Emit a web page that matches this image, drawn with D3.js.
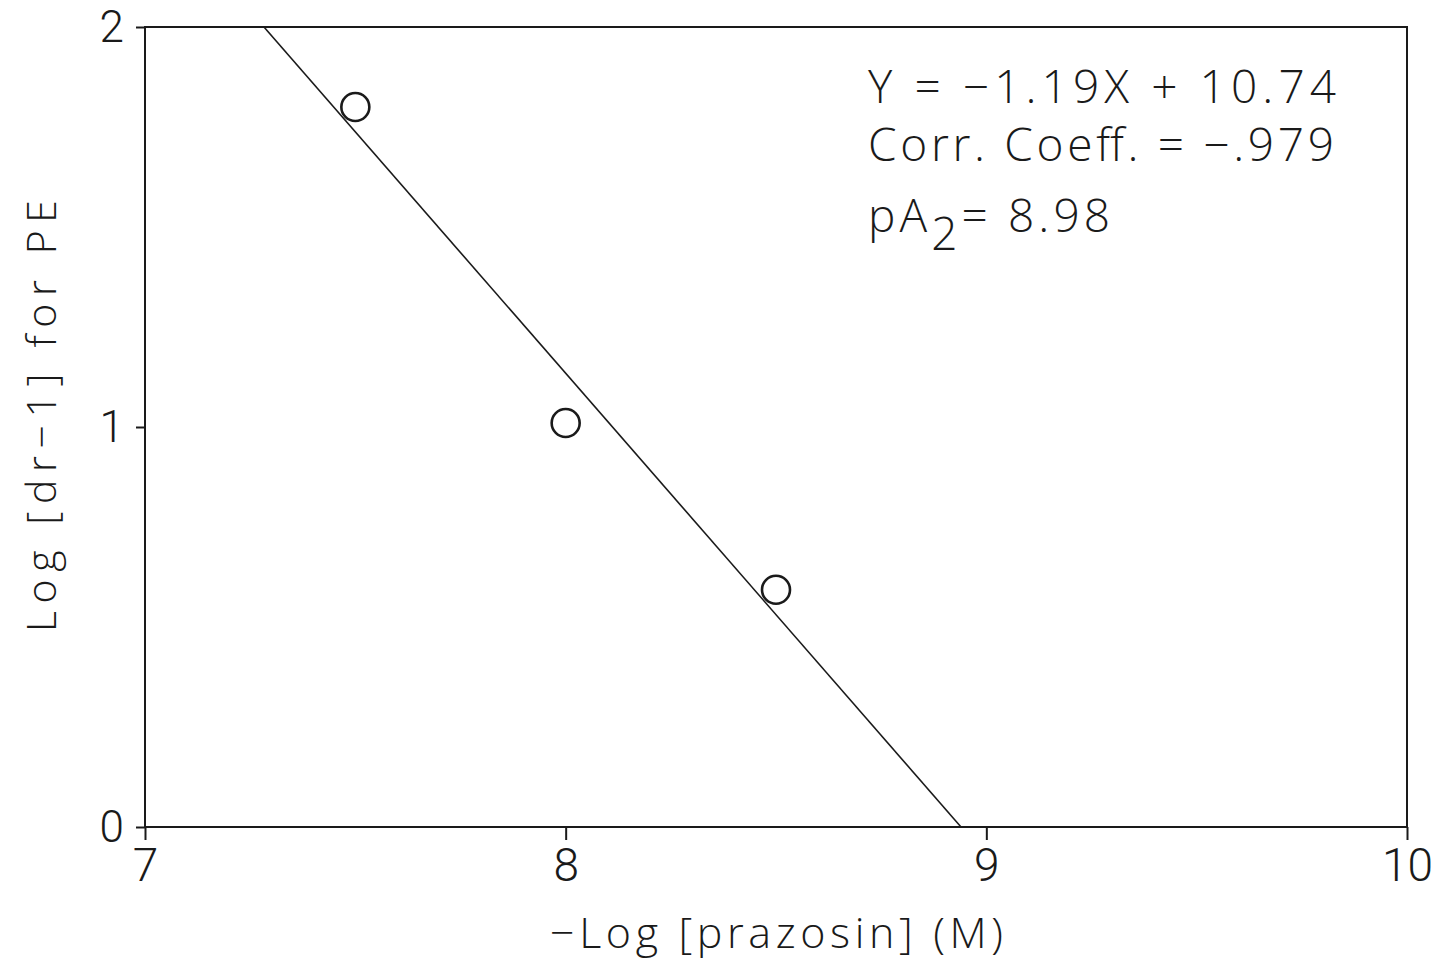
<!DOCTYPE html>
<html>
<head>
<meta charset="utf-8">
<script src="https://cdn.jsdelivr.net/npm/d3@7"></script>
<style>
  html, body { margin: 0; padding: 0; background: #fff; }
  svg { display: block; }
  text { font-family: "Open Sans", Roboto, sans-serif; font-weight: 300; fill: #1a1a1a; }
</style>
</head>
<body>
<svg id="chart" width="1441" height="967"></svg>
<script>
// Antagonist concentration, -log[prazosin] (M)
const logPrazosin = [7.5, 8.0, 8.5];
// log(dose ratio - 1) for phenylephrine
const logDrMinus1 = [1.80, 1.01, 0.593];

const xTicks = [7, 8, 9, 10];
const yTicks = [0, 1, 2];

const annotationLines = ["Y = \u22121.19X + 10.74", "Corr. Coeff. = \u2212.979"];
const pA2Value = "8.98";

const xLabel = "\u2212Log [prazosin] (M)";
const yLabel = "Log [dr\u22121] for PE";

const svg = d3.select("#chart");
const margin = { left: 145, right: 34, top: 27, bottom: 140 };
const W = 1441, H = 967;
const ink = "#1a1a1a";
const font = "\"Open Sans\", Roboto, sans-serif";
const tickFont = "Roboto, \"Open Sans\", sans-serif";

const x = d3.scaleLinear().domain([7, 10]).range([margin.left, W - margin.right]);
const y = d3.scaleLinear().domain([0, 2]).range([H - margin.bottom, margin.top]);

// plot frame
svg.append("rect")
  .attr("x", x(7)).attr("y", y(2))
  .attr("width", x(10) - x(7)).attr("height", y(0) - y(2))
  .attr("fill", "none").attr("stroke", ink).attr("stroke-width", 2);

// bottom axis
const gx = svg.append("g")
  .attr("transform", `translate(0,${y(0)})`)
  .call(d3.axisBottom(x).tickValues(xTicks).tickSize(13).tickPadding(8).tickFormat(d3.format("d")));
gx.select(".domain").remove();
gx.selectAll(".tick line").attr("stroke", ink).attr("stroke-width", 2);
gx.selectAll(".tick text").attr("font-size", 46).style("font-family", tickFont).style("font-weight", 300).attr("fill", ink);

// left axis
const gy = svg.append("g")
  .attr("transform", `translate(${x(7)},0)`)
  .call(d3.axisLeft(y).tickValues(yTicks).tickSize(9).tickPadding(12).tickFormat(d3.format("d")));
gy.select(".domain").remove();
gy.selectAll(".tick line").attr("stroke", ink).attr("stroke-width", 2);
gy.selectAll(".tick text").attr("font-size", 44).style("font-family", tickFont).style("font-weight", 300).attr("fill", ink);

// least-squares fit through the points, clipped to the plot area
const mx = d3.mean(logPrazosin), my = d3.mean(logDrMinus1);
const sxy = d3.sum(logPrazosin, (v, i) => (v - mx) * (logDrMinus1[i] - my));
const sxx = d3.sum(logPrazosin, v => (v - mx) * (v - mx));
const slope = sxy / sxx;
const intercept = my - slope * mx;
const xTop = (2 - intercept) / slope;
const xBottom = (0 - intercept) / slope;
svg.append("line")
  .attr("x1", x(xTop)).attr("y1", y(2))
  .attr("x2", x(xBottom)).attr("y2", y(0))
  .attr("stroke", ink).attr("stroke-width", 1.6);

// data points
svg.selectAll("circle.pt")
  .data(logPrazosin.map((v, i) => [v, logDrMinus1[i]]))
  .join("circle")
  .attr("class", "pt")
  .attr("cx", d => x(d[0])).attr("cy", d => y(d[1]))
  .attr("r", 14)
  .attr("fill", "none").attr("stroke", ink).attr("stroke-width", 2.6);

// regression annotation
const ann = svg.append("g").attr("font-size", 46);
const annWidths = [468, 466];
annotationLines.forEach((t, i) => {
  ann.append("text").attr("x", 868).attr("y", 103 + i * 58)
    .attr("textLength", annWidths[i]).attr("lengthAdjust", "spacing")
    .text(t);
});
const pa = ann.append("text").attr("x", 868).attr("y", 232)
  .attr("textLength", 242).attr("lengthAdjust", "spacing");
pa.append("tspan").text("pA");
pa.append("tspan").attr("dy", 18).text("2");
pa.append("tspan").attr("dy", -18).text("= " + pA2Value);

// axis titles
svg.append("text")
  .attr("x", 550).attr("y", 948)
  .attr("font-size", 43)
  .attr("textLength", 453).attr("lengthAdjust", "spacing")
  .text(xLabel);

svg.append("text")
  .attr("transform", `translate(56,632) rotate(-90)`)
  .attr("font-size", 41)
  .attr("textLength", 432).attr("lengthAdjust", "spacing")
  .text(yLabel);
</script>
</body>
</html>
